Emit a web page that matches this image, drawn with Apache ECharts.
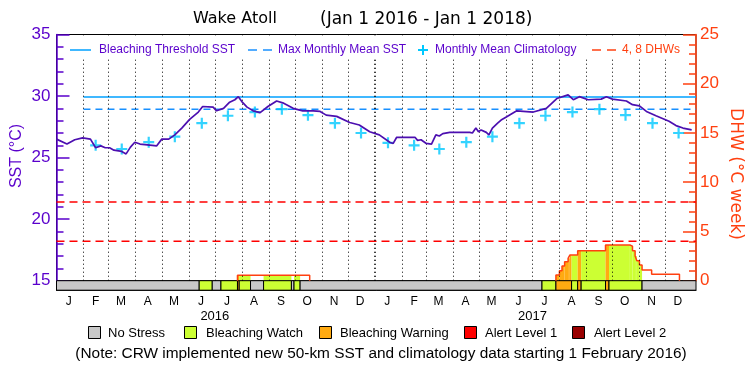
<!DOCTYPE html>
<html><head><meta charset="utf-8">
<script src="https://cdn.jsdelivr.net/npm/echarts@6/dist/echarts.min.js"></script>
<style>html,body{margin:0;padding:0;background:#fff}#c{width:750px;height:375px}</style>
</head><body><div id="c"></div>
<script>
// ---------------- DATA ----------------
const xStart = '2016-01-01';
const xEnd = '2018-01-05';

// daily SST (°C)
const sstData = [
 ['2016-01-01',26.5],['2016-01-13',26.1],['2016-01-22',26.45],['2016-01-31',26.6],['2016-02-09',26.5],
 ['2016-02-15',25.8],['2016-02-21',25.95],['2016-02-26',25.8],['2016-03-02',25.8],['2016-03-07',25.6],
 ['2016-03-16',25.5],['2016-03-21',25.3],['2016-03-26',25.85],['2016-03-31',26.25],['2016-04-06',26.1],
 ['2016-04-20',26.0],['2016-04-25',25.95],['2016-05-01',26.5],['2016-05-09',26.5],['2016-05-16',26.85],
 ['2016-05-24',27.4],['2016-06-02',28.1],['2016-06-12',28.7],['2016-06-17',29.15],['2016-06-29',29.1],
 ['2016-07-03',28.8],['2016-07-11',29.0],['2016-07-18',29.5],['2016-07-24',29.7],['2016-07-28',29.95],
 ['2016-08-01',29.55],['2016-08-07',29.1],['2016-08-14',28.8],['2016-08-22',28.65],['2016-08-31',29.15],
 ['2016-09-10',29.6],['2016-09-17',29.45],['2016-09-29',29.0],['2016-10-10',28.8],['2016-10-22',28.8],
 ['2016-10-30',28.75],['2016-11-06',28.45],['2016-11-18',28.35],['2016-12-03',27.85],['2016-12-14',27.65],
 ['2016-12-26',27.1],['2017-01-06',26.85],['2017-01-18',26.25],['2017-01-22',26.15],['2017-01-26',26.65],
 ['2017-02-16',26.65],['2017-02-19',26.4],['2017-02-23',26.45],['2017-03-01',26.15],['2017-03-07',26.1],
 ['2017-03-12',26.85],['2017-03-16',26.75],['2017-03-20',26.95],['2017-03-28',27.05],['2017-04-20',27.05],
 ['2017-04-23',27.0],['2017-04-27',27.4],['2017-04-30',27.1],['2017-05-03',27.25],['2017-05-09',27.05],
 ['2017-05-12',26.85],['2017-05-16',27.4],['2017-05-22',27.8],['2017-05-26',28.05],['2017-06-01',28.3],
 ['2017-06-13',28.8],['2017-07-02',28.7],['2017-07-17',29.0],['2017-07-29',29.8],['2017-08-11',30.1],
 ['2017-08-17',29.7],['2017-08-24',29.95],['2017-09-03',29.7],['2017-09-18',29.75],['2017-09-24',29.95],
 ['2017-10-01',29.75],['2017-10-17',29.6],['2017-10-24',29.3],['2017-11-01',29.2],['2017-11-09',28.75],
 ['2017-11-20',28.4],['2017-12-05',27.95],['2017-12-13',27.6],['2017-12-21',27.4],['2017-12-31',27.25]
];

// monthly mean climatology (°C)
const climDates = ['2016-02-15','2016-03-16','2016-04-16','2016-05-16','2016-06-16','2016-07-16','2016-08-16',
 '2016-09-16','2016-10-16','2016-11-16','2016-12-16','2017-01-16','2017-02-15','2017-03-16','2017-04-16',
 '2017-05-16','2017-06-16','2017-07-16','2017-08-16','2017-09-16','2017-10-16','2017-11-16','2017-12-16'];
const climValues = [26.0,25.7,26.25,26.7,27.8,28.4,28.7,28.93,28.45,27.8,27.0,26.2,26.0,25.7,26.25,
 26.7,27.8,28.4,28.7,28.93,28.45,27.8,27.0];

const mmmValue = 28.93;          // Max Monthly Mean SST
const thresholdValue = 29.93;    // Bleaching Threshold SST
const thresholdStart = '2016-02-01';
const dhwLevels = [4, 8];

// DHW steps: [date from which value holds, value]
const dhwSteps = [
 ['2016-01-01',0],['2016-07-27',0.55],['2016-10-18',0],
 ['2017-07-28',0.58],['2017-08-01',1.0],['2017-08-04',1.5],['2017-08-07',1.93],['2017-08-11',2.27],
 ['2017-08-13',2.6],['2017-08-22',3.05],['2017-09-23',3.62],['2017-10-21',3.5],['2017-10-24',3.05],
 ['2017-10-27',2.5],['2017-10-29',2.03],['2017-11-01',1.6],['2017-11-04',1.09],['2017-11-15',0.65],
 ['2017-12-17',0],['2018-01-05',0]
];

// stress level segments: [start, end, level] 0 none,1 watch,2 warning,3 alert1,4 alert2
const stressSegments = [
 ['2016-01-01','2016-06-13',0],['2016-06-13','2016-06-28',1],['2016-06-28','2016-07-08',0],
 ['2016-07-08','2016-07-27',1],['2016-07-27','2016-07-29',2],['2016-07-29','2016-08-11',1],
 ['2016-08-11','2016-08-26',0],['2016-08-26','2016-09-27',1],['2016-09-27','2016-09-30',0],
 ['2016-09-30','2016-10-07',1],['2016-10-07','2017-07-12',0],['2017-07-12','2017-07-28',1],
 ['2017-07-28','2017-08-15',2],['2017-08-15','2017-08-22',1],['2017-08-22','2017-08-26',2],
 ['2017-08-26','2017-09-23',1],['2017-09-23','2017-09-27',2],['2017-09-27','2017-11-04',1],
 ['2017-11-04','2018-01-05',0]
];
const stressNames = ['No Stress','Bleaching Watch','Bleaching Warning','Alert Level 1','Alert Level 2'];

const monthLetters = ['J','F','M','A','M','J','J','A','S','O','N','D'];
const monthLabelDates = ['2016-01-15','2016-02-15','2016-03-15','2016-04-15','2016-05-15','2016-06-15',
 '2016-07-15','2016-08-15','2016-09-15','2016-10-15','2016-11-15','2016-12-15',
 '2017-01-15','2017-02-15','2017-03-15','2017-04-15','2017-05-15','2017-06-15',
 '2017-07-15','2017-08-15','2017-09-15','2017-10-15','2017-11-15','2017-12-15'];
const monthStarts = ['2016-02-01','2016-03-01','2016-04-01','2016-05-01','2016-06-01','2016-07-01',
 '2016-08-01','2016-09-01','2016-10-01','2016-11-01','2016-12-01','2017-01-01','2017-02-01','2017-03-01',
 '2017-04-01','2017-05-01','2017-06-01','2017-07-01','2017-08-01','2017-09-01','2017-10-01','2017-11-01','2017-12-01'];
const yearLabelDates = ['2016-07-01','2017-07-01'];
const yearLabels = ['2016','2017'];

// ---------------- STYLE ----------------
const PURPLE = '#5a00cc', ORANGE = '#ff4010', SSTLINE = '#4c0fb0';
const BLUE = '#00a0ff', BLUE2 = '#1890ff', CYAN = '#00c8ff', RED = '#ff0000';
const stressColors = ['#c8c8c8','#ccff33','#ffaa11','#ff0000','#990000'];
const FONT = 'Liberation Sans';
const WIDEFONT = 'DejaVu Sans';

const t = s => Date.parse(s + 'T00:00:00Z');
const tMin = t(xStart), tMax = t(xEnd);

// DHW fill pieces = intersection of dhw steps and stress segments
const dhwFill = [];
for (let i = 0; i < dhwSteps.length - 1; i++) {
  const a = t(dhwSteps[i][0]), b = t(dhwSteps[i+1][0]), v = dhwSteps[i][1];
  if (v <= 0) continue;
  stressSegments.forEach(([s, e, lv]) => {
    const lo = Math.max(a, t(s)), hi = Math.min(b, t(e));
    if (hi > lo && lv > 0) dhwFill.push([lo, hi, v, lv]);
  });
}
// DHW outline polyline (only positive parts)
const dhwOutline = [];
for (let i = 1; i < dhwSteps.length; i++) {
  const prev = dhwSteps[i-1][1], cur = dhwSteps[i][1], x = t(dhwSteps[i][0]);
  if (prev === 0 && cur === 0) continue;
  if (prev === 0) dhwOutline.push(null);
  dhwOutline.push([x, prev], [x, cur]);
}

const labelMap = {}; monthLabelDates.forEach((d, i) => labelMap[t(d)] = monthLetters[i % 12]);
const yearMap = {}; yearLabelDates.forEach((d, i) => yearMap[t(d)] = yearLabels[i]);

const chart = echarts.init(document.getElementById('c'), null, {renderer: 'canvas'});

const G_LEFT = 56.5, G_W = 639.5, G_TOP = 34.5, G_H = 246.2, S_H = 9.5;

const option = {
  animation: false,
  backgroundColor: '#fff',
  grid: [
    {left: G_LEFT, top: G_TOP, width: G_W, height: G_H, show: true, borderColor: '#000', borderWidth: 1, backgroundColor: 'transparent'},
    {left: G_LEFT, top: G_TOP + G_H, width: G_W, height: S_H}
  ],
  xAxis: [
    {type: 'value', gridIndex: 0, min: tMin, max: tMax, axisLine: {show: false}, axisTick: {show: false}, axisLabel: {show: false}, splitLine: {show: false}},
    {type: 'value', gridIndex: 1, min: tMin, max: tMax, position: 'bottom',
     axisLine: {show: true, lineStyle: {color: '#000', width: 1}}, axisTick: {show: false}, splitLine: {show: false},
     axisLabel: {customValues: monthLabelDates.map(t), formatter: v => labelMap[v] || '', color: '#000', fontFamily: FONT, fontSize: 12, margin: 5}},
    {type: 'value', gridIndex: 1, min: tMin, max: tMax, position: 'bottom', offset: 15,
     axisLine: {show: false}, axisTick: {show: false}, splitLine: {show: false},
     axisLabel: {customValues: yearLabelDates.map(t), formatter: v => yearMap[v] || '', color: '#000', fontFamily: FONT, fontSize: 13, margin: 5}}
  ],
  yAxis: [
    {type: 'value', gridIndex: 0, position: 'left', min: 15, max: 35, interval: 5,
     axisLine: {show: true, lineStyle: {color: PURPLE, width: 1.5}},
     axisTick: {show: true, inside: true, length: 13, lineStyle: {color: PURPLE, width: 1.5}},
     minorTick: {show: true, splitNumber: 5, length: 7, lineStyle: {color: PURPLE, width: 1.5}},
     axisLabel: {color: PURPLE, fontFamily: FONT, fontSize: 17, margin: 6},
     splitLine: {show: false}},
    {type: 'value', gridIndex: 0, position: 'right', min: 0, max: 25, interval: 5,
     axisLine: {show: true, lineStyle: {color: ORANGE, width: 1.5}},
     axisTick: {show: true, inside: true, length: 13, lineStyle: {color: ORANGE, width: 1.5}},
     minorTick: {show: true, splitNumber: 5, length: 7, lineStyle: {color: ORANGE, width: 1.5}},
     axisLabel: {color: ORANGE, fontFamily: FONT, fontSize: 17, margin: 4},
     splitLine: {show: false}},
    {type: 'value', gridIndex: 1, position: 'left', min: 0, max: 1,
     axisLine: {show: true, lineStyle: {color: PURPLE, width: 1.5}}, axisTick: {show: false}, axisLabel: {show: false}, splitLine: {show: false}}
  ],
  series: [
    {type: 'line', xAxisIndex: 0, yAxisIndex: 0, data: [[t(thresholdStart), mmmValue], [tMax, mmmValue]],
     symbol: 'none', z: 3, lineStyle: {color: BLUE2, width: 1.5, type: [7, 5]},
     markLine: {silent: true, symbol: 'none', label: {show: false}, animation: false,
       data: monthStarts.map(d => ({xAxis: t(d), lineStyle: {color: '#000', type: [1, 3], width: d === '2017-01-01' ? 2 : 1}}))}},
    {type: 'line', xAxisIndex: 0, yAxisIndex: 0, data: [[t(thresholdStart), thresholdValue], [tMax, thresholdValue]],
     symbol: 'none', z: 3, lineStyle: {color: BLUE, width: 1.5}},
    ...dhwLevels.map(v => ({type: 'line', xAxisIndex: 0, yAxisIndex: 1, data: [[tMin, v], [tMax, v]],
     symbol: 'none', z: 3, lineStyle: {color: RED, width: 1.5, type: [8, 5]}})),
    {type: 'custom', xAxisIndex: 0, yAxisIndex: 1, z: 2, data: dhwFill, encode: {x: [0, 1], y: 2},
     renderItem: (p, api) => {
       const a = api.coord([api.value(0), api.value(2)]), b = api.coord([api.value(1), 0]);
       return {type: 'rect', shape: {x: a[0], y: a[1], width: b[0] - a[0], height: b[1] - a[1]},
               style: {fill: stressColors[api.value(3)]}};
     }},
    {type: 'line', xAxisIndex: 0, yAxisIndex: 1, data: dhwOutline, connectNulls: false, symbol: 'none', z: 4,
     lineStyle: {color: ORANGE, width: 1.5}},
    {type: 'scatter', xAxisIndex: 0, yAxisIndex: 0, z: 5,
     data: climDates.map((d, i) => [t(d), climValues[i]]),
     symbol: 'path://M4,0 H6 V4 H10 V6 H6 V10 H4 V6 H0 V4 H4 Z', symbolSize: 11,
     itemStyle: {color: CYAN}},
    {type: 'line', xAxisIndex: 0, yAxisIndex: 0, z: 6, data: sstData.map(([d, v]) => [t(d), v]),
     symbol: 'none', lineStyle: {color: SSTLINE, width: 1.7}},
    {type: 'custom', xAxisIndex: 1, yAxisIndex: 2, z: 2,
     data: stressSegments.map(([s, e, l]) => [t(s), t(e), l]), encode: {x: [0, 1]},
     renderItem: (p, api) => {
       const a = api.coord([api.value(0), 1]), b = api.coord([api.value(1), 0]);
       return {type: 'rect', shape: {x: a[0], y: a[1], width: b[0] - a[0], height: b[1] - a[1]},
               style: {fill: stressColors[api.value(2)], stroke: '#000', lineWidth: 1}};
     }}
  ],
  graphic: [
    {type: 'text', left: 193, top: 11, z: 100, style: {text: 'Wake Atoll', font: '16px ' + WIDEFONT, fill: '#000'}},
    {type: 'text', left: 320, top: 11, z: 100, style: {text: '(Jan 1 2016 - Jan 1 2018)', font: '17px ' + WIDEFONT, fill: '#000'}},
    // white band behind top legend (dotted dividers do not pass through it), leaving axis ticks visible
    {type: 'rect', z: 90, shape: {x: 70, y: 36, width: 612, height: 23}, style: {fill: '#fff'}},
    // top legend
    {type: 'line', z: 100, shape: {x1: 70, y1: 50, x2: 91, y2: 50}, style: {stroke: BLUE, lineWidth: 1.5}},
    {type: 'text', z: 100, x: 99, y: 50, style: {text: 'Bleaching Threshold SST', font: '12px ' + FONT, fill: PURPLE, verticalAlign: 'middle'}},
    {type: 'line', z: 100, shape: {x1: 248, y1: 50, x2: 257, y2: 50}, style: {stroke: BLUE2, lineWidth: 1.5}},
    {type: 'line', z: 100, shape: {x1: 263, y1: 50, x2: 272, y2: 50}, style: {stroke: BLUE2, lineWidth: 1.5}},
    {type: 'text', z: 100, x: 278, y: 50, style: {text: 'Max Monthly Mean SST', font: '12px ' + FONT, fill: PURPLE, verticalAlign: 'middle'}},
    {type: 'line', z: 100, shape: {x1: 418, y1: 50, x2: 428, y2: 50}, style: {stroke: CYAN, lineWidth: 2}},
    {type: 'line', z: 100, shape: {x1: 423, y1: 45, x2: 423, y2: 55}, style: {stroke: CYAN, lineWidth: 2}},
    {type: 'text', z: 100, x: 435, y: 50, style: {text: 'Monthly Mean Climatology', font: '12px ' + FONT, fill: PURPLE, verticalAlign: 'middle'}},
    {type: 'line', z: 100, shape: {x1: 592, y1: 50, x2: 601, y2: 50}, style: {stroke: ORANGE, lineWidth: 1.5}},
    {type: 'line', z: 100, shape: {x1: 607, y1: 50, x2: 616, y2: 50}, style: {stroke: ORANGE, lineWidth: 1.5}},
    {type: 'text', z: 100, x: 622, y: 50, style: {text: '4, 8 DHWs', font: '12px ' + FONT, fill: ORANGE, verticalAlign: 'middle'}},
    // axis names
    {type: 'text', z: 100, x: 17, y: 156, rotation: Math.PI / 2, style: {text: 'SST (°C)', font: '16px ' + FONT, fill: PURPLE, align: 'center', verticalAlign: 'middle'}},
    {type: 'text', z: 100, x: 735, y: 174, rotation: -Math.PI / 2, style: {text: 'DHW (°C week)', font: '17px ' + WIDEFONT, fill: ORANGE, align: 'center', verticalAlign: 'middle'}},
    // bottom legend
    ...[88, 184, 319, 464, 572].flatMap((x, i) => [
      {type: 'rect', z: 100, shape: {x: x + 0.5, y: 326.5, width: 12, height: 12}, style: {fill: stressColors[i], stroke: '#000', lineWidth: 1}},
      {type: 'text', z: 100, x: [108, 206, 340, 485, 594][i], y: 333, style: {text: stressNames[i], font: '13px ' + FONT, fill: '#000', verticalAlign: 'middle'}}
    ]),
    {type: 'text', z: 100, x: 381, y: 354, style: {text: '(Note: CRW implemented new 50-km SST and climatology data starting 1 February 2016)', font: '15.4px ' + FONT, fill: '#000', align: 'center', verticalAlign: 'middle'}}
  ]
};
chart.setOption(option);
</script></body></html>
